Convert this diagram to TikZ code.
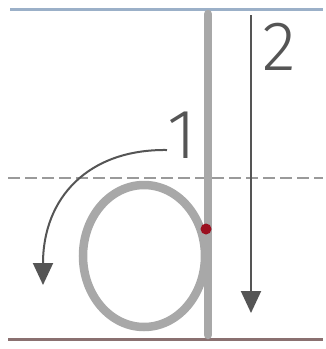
\documentclass[tikz,border=0pt]{standalone}
\usepackage{fontspec}
\newfontfamily\digitfont{Fira Sans}[UprightFont={* Light}]
\usetikzlibrary{arrows.meta}
\definecolor{rulecolTop}{HTML}{9BB0C8}
\definecolor{rulecolBase}{HTML}{8A7070}
\definecolor{rulecolMid}{HTML}{9A9A9A}
\definecolor{lettercol}{HTML}{A8A8A8}
\definecolor{guidecol}{HTML}{555555}
\definecolor{dotred}{HTML}{9B1020}
\tikzset{
  ruleline/.style={line width=3pt},
  letterstroke/.style={draw=lettercol, line width=8.5pt},
  guidearrow/.style={draw=guidecol, line width=2pt, -{Triangle[width=20pt,length=22pt]}},
  digit/.style={text=guidecol, font=\digitfont\fontsize{70}{70}\selectfont, inner sep=0pt}
}
\begin{document}
\begin{tikzpicture}[x=1pt,y=-1pt]
\useasboundingbox[fill=white] (0,0) rectangle (326,349);
% ruled lines
\coordinate (tl) at (10,9); \coordinate (tr) at (323,9);
\coordinate (ml) at (8,178); \coordinate (mr) at (323,178);
\coordinate (bl) at (8,339); \coordinate (br) at (323,339);
\draw[ruleline, draw=rulecolTop] (tl) -- (tr);
\draw[ruleline, draw=rulecolMid, line width=2pt, dash pattern=on 12pt off 5pt] (ml) -- (mr);
\draw[ruleline, draw=rulecolBase] (bl) -- (br);
% letter d
\coordinate (stemtop) at (208,14);
\coordinate (stembot) at (208,335);
\node[inner sep=0pt, minimum size=0pt] (bowlc) at (144,256) {};
\draw[letterstroke] (bowlc) ellipse [x radius=61, y radius=71];
\draw[letterstroke, line cap=round] (stemtop) -- (stembot);
\node[circle, fill=dotred, inner sep=0pt, minimum size=11pt] (dot) at (206,229) {};
% stroke 1
\coordinate (a1s) at (167,150);
\coordinate (a1e) at (43,285);
\draw[guidearrow] (a1s) .. controls (88,149) and (43,198) .. (a1e);
\node[digit] (n1) at (182,135) {1};
% stroke 2
\coordinate (a2s) at (251,15);
\coordinate (a2e) at (251,313);
\draw[guidearrow] (a2s) -- (a2e);
\node[digit] (n2) at (279,47) {2};
\end{tikzpicture}
\end{document}
